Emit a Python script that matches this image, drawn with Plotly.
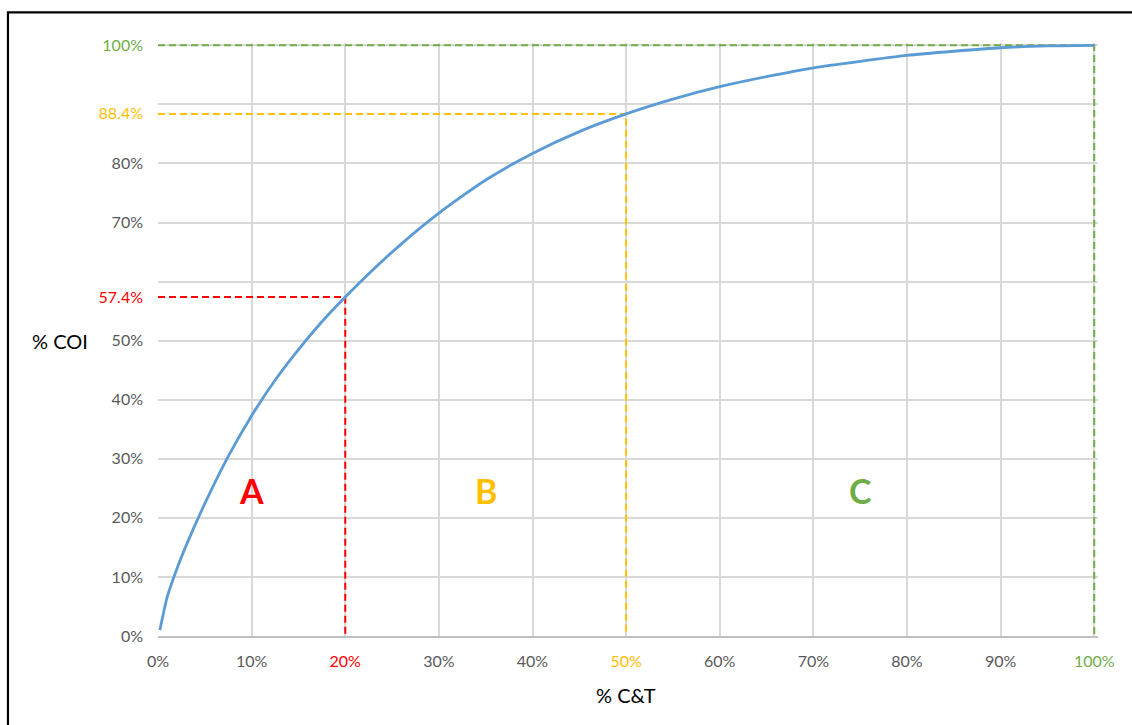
import plotly.graph_objects as go

# ---- data ----
ct_share = [0.002, 0.01, 0.02, 0.03, 0.05, 0.075, 0.10, 0.125, 0.15, 0.175, 0.20, 0.25,
            0.30, 0.35, 0.40, 0.45, 0.50, 0.55, 0.60, 0.65, 0.70, 0.75, 0.80, 0.85,
            0.90, 0.95, 1.00]
coi_share = [0.010, 0.067, 0.113, 0.153, 0.224, 0.304, 0.373, 0.433, 0.485, 0.532, 0.574, 0.650,
             0.716, 0.772, 0.817, 0.854, 0.884, 0.909, 0.930, 0.947, 0.962, 0.973, 0.983, 0.990,
             0.996, 0.999, 1.000]

class_names = ["A", "B", "C"]
class_x_limit = [0.20, 0.50, 1.00]
class_y_limit = [0.574, 0.884, 1.00]
class_colors = ["#FF0000", "#FFC000", "#70AD47"]
class_label_x = [0.10, 0.35, 0.75]
class_label_y = [0.247, 0.247, 0.247]

x_ticks = [0, 0.1, 0.2, 0.3, 0.4, 0.5, 0.6, 0.7, 0.8, 0.9, 1.0]
x_ticktext = ["0%", "10%", "20%", "30%", "40%", "50%", "60%", "70%", "80%", "90%", "100%"]
y_ticks = [0, 0.1, 0.2, 0.3, 0.4, 0.5, 0.6, 0.7, 0.8, 0.9, 1.0]
y_ticktext = ["0%", "10%", "20%", "30%", "40%", "50%", "", "70%", "80%", "", "100%"]
y_extra_ticks = [0.574, 0.884]
y_extra_text = ["57.4%", "88.4%"]

FONT = "Lato, Open Sans, sans-serif"
GRAY = "#595959"

# a small headroom so the boundary lines at 100% are not clipped
PAD = 0.004
PLOT_W, PLOT_H = 936, 591  # pixels for 0..100%


def colored(txt, col):
    return f"<span style='color:{col}'>{txt}</span>"


xt = list(x_ticktext)
for xl, c in zip(class_x_limit, class_colors):
    i = x_ticks.index(xl)
    xt[i] = colored(xt[i], c)
yt = list(y_ticktext)
yt[-1] = colored(yt[-1], class_colors[2])
yt2 = [colored(t, c) for t, c in zip(y_extra_text, class_colors[:2])]

fig = go.Figure()

# dashed class boundaries
for xl, yl, c in zip(class_x_limit, class_y_limit, class_colors):
    fig.add_trace(go.Scatter(x=[0, xl, xl], y=[yl, yl, 0], mode="lines",
                             line=dict(color=c, width=2, dash="7px,4px"),
                             hoverinfo="skip", showlegend=False))

# ABC curve
fig.add_trace(go.Scatter(x=ct_share, y=coi_share, mode="lines",
                         line=dict(color="#5B9BD5", width=2.8, shape="spline", smoothing=0.6),
                         showlegend=False))

# invisible trace to activate overlay axis
fig.add_trace(go.Scatter(x=[0], y=[0], yaxis="y2", mode="markers",
                         marker=dict(opacity=0), showlegend=False, hoverinfo="skip"))

for n, lx, ly, c in zip(class_names, class_label_x, class_label_y, class_colors):
    fig.add_annotation(x=lx, y=ly, text=f"<b>{n}</b>", showarrow=False,
                       font=dict(family=FONT, size=34, color=c))

top_m = 45 - PAD * PLOT_H
right_m = 38 - PAD * PLOT_W
ph = PLOT_H * (1 + PAD)
pw = PLOT_W * (1 + PAD)


def px_to_paper_x(p):
    return (p - 158) / pw


def px_to_paper_y(p):
    return (636 - p) / ph


fig.add_annotation(xref="paper", yref="paper", x=px_to_paper_x(60), y=px_to_paper_y(341),
                   text="% COI", xanchor="center", yanchor="middle",
                   showarrow=False, font=dict(family=FONT, size=20, color="#000"))
fig.add_annotation(xref="paper", yref="paper", x=px_to_paper_x(626), y=px_to_paper_y(695),
                   text="% C&T", xanchor="center", yanchor="middle",
                   showarrow=False, font=dict(family=FONT, size=20, color="#000"))

# outer chart border
fig.add_shape(type="rect", xref="paper", yref="paper",
              x0=px_to_paper_x(8), x1=px_to_paper_x(1145),
              y0=px_to_paper_y(740), y1=px_to_paper_y(12),
              line=dict(color="#000", width=2.2))

fig.update_layout(
    width=1132, height=725,
    margin=dict(l=158, r=right_m, t=top_m, b=89),
    paper_bgcolor="white", plot_bgcolor="white",
    font=dict(family=FONT, color=GRAY, size=16),
    xaxis=dict(range=[0, 1 + PAD], tickvals=x_ticks, ticktext=xt, showgrid=True,
               gridcolor="#D9D9D9", gridwidth=1.5, zeroline=False,
               showline=True, linecolor="#BFBFBF", linewidth=1.8,
               ticks="", ticklabelstandoff=10, tickfont=dict(size=16, color=GRAY)),
    yaxis=dict(range=[0, 1 + PAD], tickvals=y_ticks, ticktext=yt, showgrid=True,
               gridcolor="#D9D9D9", gridwidth=1.5, zeroline=False, showline=False,
               ticks="", ticklabelstandoff=14, tickfont=dict(size=16, color=GRAY)),
    yaxis2=dict(range=[0, 1 + PAD], overlaying="y", side="left", tickvals=y_extra_ticks,
                ticktext=yt2, showgrid=False, zeroline=False, showline=False,
                ticks="", ticklabelstandoff=14, tickfont=dict(size=16, color=GRAY)),
)

fig.write_html("out.html", config={"displayModeBar": False},
               post_script="document.body.style.margin='0';")
